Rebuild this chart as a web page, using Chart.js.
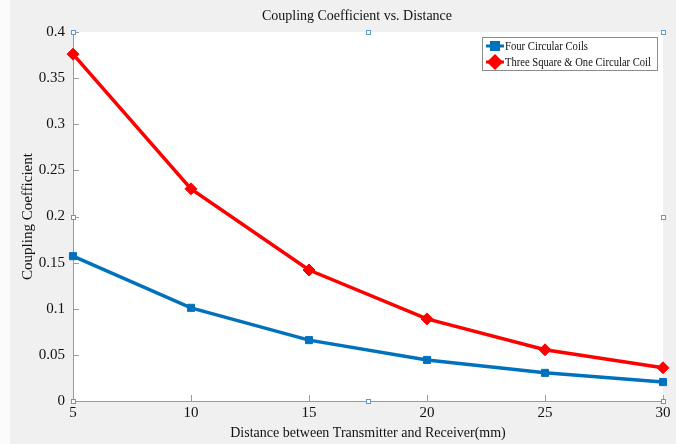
<!DOCTYPE html>
<html>
<head>
<meta charset="utf-8">
<script src="https://cdn.jsdelivr.net/npm/chart.js@4/dist/chart.umd.min.js"></script>
<style>
  html, body { margin: 0; padding: 0; background: #f0f0f0; }
  #wrap { width: 676px; height: 444px; }
</style>
</head>
<body>
<div id="wrap"><canvas id="couplingChart"></canvas></div>
<script>
// distance (mm) and coupling values
const distances = [5, 10, 15, 20, 25, 30];
const fourCircular = [0.157, 0.101, 0.066, 0.0445, 0.0305, 0.0205];
const threeSquareOneCircular = [0.376, 0.230, 0.142, 0.089, 0.0555, 0.036];
const seriesNames = ['Four Circular Coils', 'Three Square & One Circular Coil'];
const yTickValues = [0, 0.05, 0.1, 0.15, 0.2, 0.25, 0.3, 0.35, 0.4];
const chartTitle = 'Coupling Coefficient vs. Distance';

const BLUE = '#0072bd';
const RED = '#ff0000';
const FONT = "'Liberation Serif', 'Times New Roman', serif";

function toPoints(ys) {
    return distances.map((d, i) => ({ x: d, y: ys[i] }));
}

// grey figure background, white axes box, inward ticks, selection handles, title, legend
const matlabLook = {
    id: 'matlabLook',
    beforeDraw(chart) {
        const c = chart.ctx, a = chart.chartArea;
        c.save();
        c.fillStyle = '#f0f0f0';
        c.fillRect(0, 0, chart.width, chart.height);
        c.fillStyle = '#fbfbfb';
        c.fillRect(0, 0, 10, chart.height);
        c.fillStyle = '#ffffff';
        c.fillRect(a.left, a.top, a.right - a.left, a.bottom - a.top);
        c.restore();
    },
    afterDatasetsDraw(chart) {
        const c = chart.ctx, a = chart.chartArea;
        const xs = chart.scales.x, ys = chart.scales.y;
        c.save();
        c.strokeStyle = '#9a9a9a';
        c.lineWidth = 1;
        c.beginPath();
        xs.ticks.forEach(t => {
            const px = Math.round(xs.getPixelForValue(t.value)) + 0.5;
            c.moveTo(px, a.bottom);
            c.lineTo(px, a.bottom - 6);
        });
        ys.ticks.forEach(t => {
            const py = Math.round(ys.getPixelForValue(t.value)) + 0.5;
            c.moveTo(a.left, py);
            c.lineTo(a.left + 6, py);
        });
        c.stroke();

        // title, centred a little left of the axes box as in the figure
        c.fillStyle = '#111';
        c.font = '14px ' + FONT;
        c.textAlign = 'center';
        c.textBaseline = 'middle';
        c.fillText(chartTitle, 357, 16, 190);

        // little selection handles round the axes
        const midX = (a.left + a.right) / 2, midY = (a.top + a.bottom) / 2;
        const handles = [
            [a.left, a.top], [midX, a.top], [a.right, a.top],
            [a.left, midY], [a.right, midY],
            [a.left, a.bottom], [midX, a.bottom], [a.right, a.bottom]
        ];
        c.fillStyle = '#ffffff';
        c.strokeStyle = '#5b9bd5';
        handles.forEach(h => {
            const hx = Math.round(h[0]), hy = Math.round(h[1]);
            c.fillRect(hx - 2, hy - 2, 4, 4);
            c.strokeRect(hx - 2 + 0.5, hy - 2 + 0.5, 4, 4);
        });

        // legend box
        const lx = 482, ly = 37, lw = 175, lh = 33;
        c.fillStyle = '#ffffff';
        c.fillRect(lx, ly, lw, lh);
        c.strokeStyle = '#8c8c8c';
        c.strokeRect(lx + 0.5, ly + 0.5, lw, lh);
        const entries = [
            { name: seriesNames[0], color: BLUE, shape: 'rect', y: ly + 9, w: 83 },
            { name: seriesNames[1], color: RED, shape: 'rectRot', y: ly + 25, w: 146 }
        ];
        entries.forEach(e => {
            c.strokeStyle = e.color;
            c.lineWidth = 3;
            c.beginPath();
            c.moveTo(lx + 4, e.y);
            c.lineTo(lx + 22, e.y);
            c.stroke();
            c.fillStyle = e.color;
            Chart.helpers.drawPoint(c, { pointStyle: e.shape, radius: e.shape === 'rect' ? 5 : 6, borderWidth: 1 }, lx + 13, e.y);
            c.fillStyle = '#111';
            c.font = '13px ' + FONT;
            c.textBaseline = 'middle';
            c.textAlign = 'left';
            c.fillText(e.name, lx + 23, e.y + 1, e.w);
        });
        c.restore();
    }
};

const ctx = document.getElementById('couplingChart');
new Chart(ctx, {
    type: 'line',
    data: {
        datasets: [
            {
                label: seriesNames[0],
                data: toPoints(fourCircular),
                borderColor: BLUE,
                backgroundColor: BLUE,
                borderWidth: 3.5,
                pointStyle: 'rect',
                pointRadius: 5,
                pointBorderWidth: 1,
                tension: 0,
                clip: false
            },
            {
                label: seriesNames[1],
                data: toPoints(threeSquareOneCircular),
                borderColor: RED,
                backgroundColor: RED,
                borderWidth: 3.5,
                pointStyle: 'rectRot',
                pointRadius: 6,
                pointBorderWidth: 1,
                tension: 0,
                clip: false
            }
        ]
    },
    options: {
        responsive: true,
        maintainAspectRatio: false,
        animation: false,
        layout: { padding: { top: 32, right: 13, left: 0, bottom: 0 } },
        plugins: {
            legend: { display: false },
            tooltip: { enabled: false },
            title: { display: false }
        },
        scales: {
            x: {
                type: 'linear',
                min: 5,
                max: 30,
                ticks: {
                    stepSize: 5,
                    color: '#111',
                    font: { family: FONT, size: 15 },
                    padding: 3,
                    maxRotation: 0
                },
                grid: { drawOnChartArea: false, drawTicks: false },
                border: { color: '#9a9a9a' },
                title: {
                    display: true,
                    text: 'Distance between Transmitter and Receiver(mm)',
                    color: '#111',
                    font: { family: FONT, size: 14 },
                    padding: { top: 1, bottom: 2 }
                },
                afterFit(scale) { scale.height = 43; }
            },
            y: {
                min: 0,
                max: 0.4,
                afterBuildTicks(scale) {
                    scale.ticks = yTickValues.map(v => ({ value: v }));
                },
                ticks: {
                    color: '#111',
                    font: { family: FONT, size: 15 },
                    padding: 8,
                    callback: v => String(+v.toFixed(2))
                },
                grid: { drawOnChartArea: false, drawTicks: false },
                border: { color: '#9a9a9a' },
                title: {
                    display: true,
                    text: 'Coupling Coefficient',
                    color: '#111',
                    font: { family: FONT, size: 15 },
                    padding: { top: 19, bottom: 0 }
                },
                afterFit(scale) { scale.width = 73; }
            }
        }
    },
    plugins: [matlabLook]
});
</script>
</body>
</html>
